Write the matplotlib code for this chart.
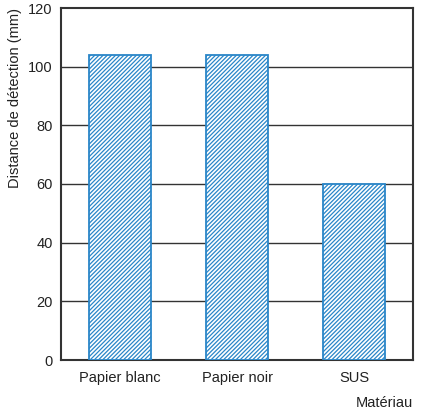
import matplotlib
matplotlib.use("Agg")
import matplotlib.pyplot as plt

categories = ["Papier blanc", "Papier noir", "SUS"]
distances = [104, 104, 60]
y_ticks = [0, 20, 40, 60, 80, 100, 120]

plt.rcParams["font.family"] = ["Liberation Sans", "DejaVu Sans"]
plt.rcParams["hatch.linewidth"] = 0.9

fig = plt.figure(figsize=(4.22, 4.12), dpi=100)
ax = fig.add_axes([61 / 422, 1 - 360 / 412, 352 / 422, 352 / 412])

blue = "#2a86c8"
x = range(len(categories))
ax.bar(x, distances, width=0.53, facecolor="white", edgecolor=blue,
       hatch="////////", linewidth=1.3, zorder=3)

ax.set_xlim(-0.5, len(categories) - 0.5)
ax.set_ylim(0, 120)
ax.set_yticks(y_ticks)
ax.set_xticks(list(x))
ax.set_xticklabels(categories)
ax.tick_params(length=0, labelsize=10.5, colors="#222222", pad=6)
ax.tick_params(axis="x", pad=8)

for v in y_ticks[1:-1]:
    ax.axhline(v, color="#333333", linewidth=1.0, zorder=1)

for s in ax.spines.values():
    s.set_color("#333333")
    s.set_linewidth(1.5)

ax.set_ylabel("Distance de détection (mm)", fontsize=10.5, color="#222222")
ax.yaxis.set_label_coords(-0.112, 0.745)
fig.text(413 / 422, 1 - 403 / 412, "Matériau", ha="right", va="center",
         fontsize=10.5, color="#222222")

fig.savefig("out.png", dpi=100, facecolor="white")
